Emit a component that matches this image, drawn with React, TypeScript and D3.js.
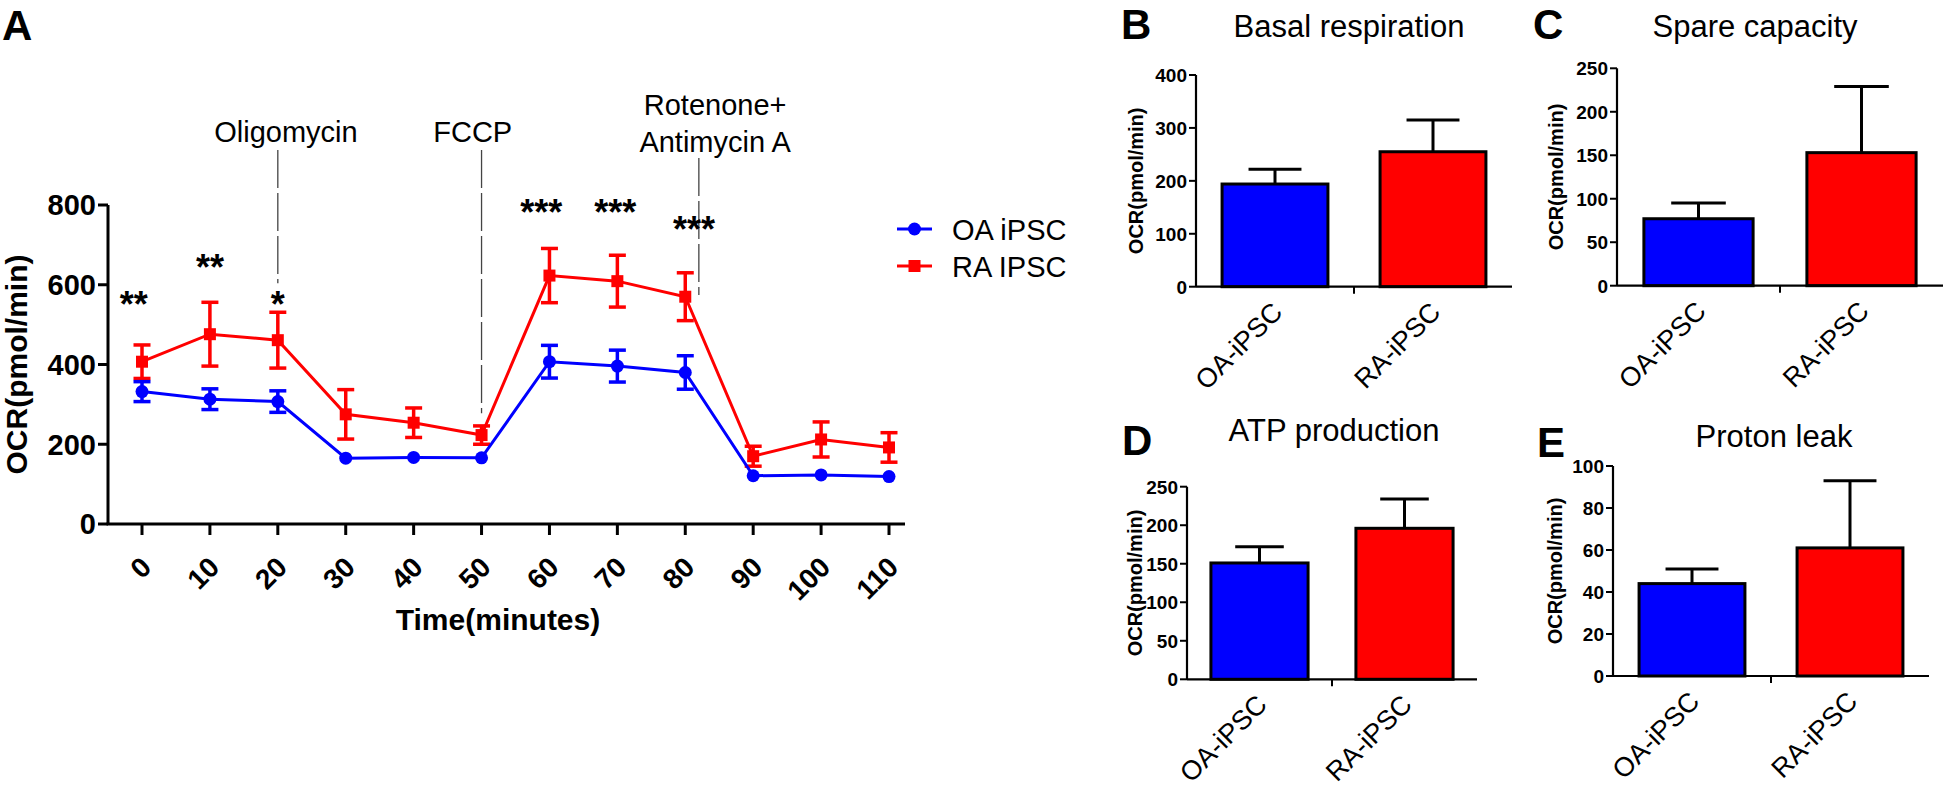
import React from "react";
import * as d3 from "d3";

const FONT = '"Liberation Sans", Arial, Helvetica, sans-serif';

// ---------- Panel A data ----------
const times = [0, 10, 20, 30, 40, 50, 60, 70, 80, 90, 100, 110];
const oaMean = [332, 313, 307, 165, 167, 166, 407, 396, 380, 121, 123, 119];
const oaErr = [25, 26, 27, 0, 0, 0, 41, 40, 42, 0, 0, 0];
const raMean = [407, 476, 461, 275, 254, 223, 623, 609, 570, 170, 212, 192];
const raErr = [42, 80, 70, 62, 37, 23, 68, 65, 60, 25, 44, 37];
const yTicksA = [0, 200, 400, 600, 800];
const seriesNames = ["OA iPSC", "RA IPSC"];

const injectionLabels = [["Oligomycin"], ["FCCP"], ["Rotenone+", "Antimycin A"]];
const injectionTimes = [20, 50, 82];
const injectionLabelTimes = [21.2, 48.7, 84.4];
const injectionLabelLevels = [[958], [958], [1026, 933]];
const injectionTop = [938, 938, 918];
const injectionBottom = [604, 278, 574];

const starTexts = ["**", "**", "*", "***", "***", "***"];
const starTimes = [-1.2, 10, 20, 58.8, 69.7, 81.3];
const starLevels = [520, 611, 520, 749, 749, 708];

// ---------- Bar panels data ----------
const groups = ["OA-iPSC", "RA-iPSC"];
const basalMean = [194, 255];
const basalErr = [28, 60];
const spareMean = [77, 153];
const spareErr = [18, 76];
const atpMean = [151, 196];
const atpErr = [21, 38];
const leakMean = [44, 61];
const leakErr = [7, 32];

const ticksB = [0, 100, 200, 300, 400];
const ticksC = [0, 50, 100, 150, 200, 250];
const ticksD = [0, 50, 100, 150, 200, 250];
const ticksE = [0, 20, 40, 60, 80, 100];

const BLUE = "#0000ff";
const RED = "#ff0000";

function PanelA() {
  const x = d3.scaleLinear().domain([0, 110]).range([142, 889]);
  const y = d3.scaleLinear().domain([0, 800]).range([524, 205]);
  const axisX = 108;
  const axisEnd = 905;
  const line = d3
    .line<number>()
    .x((_, i) => x(times[i]))
    .y((d) => y(d));

  const errBars = (means: number[], errs: number[], color: string) =>
    means.map((m, i) =>
      errs[i] > 0 ? (
        <g key={i} stroke={color} strokeWidth={3.5}>
          <line x1={x(times[i])} x2={x(times[i])} y1={y(m - errs[i])} y2={y(m + errs[i])} />
          <line x1={x(times[i]) - 8.5} x2={x(times[i]) + 8.5} y1={y(m + errs[i])} y2={y(m + errs[i])} />
          <line x1={x(times[i]) - 8.5} x2={x(times[i]) + 8.5} y1={y(m - errs[i])} y2={y(m - errs[i])} />
        </g>
      ) : null
    );

  return (
    <g fontFamily={FONT}>
      <text x={2} y={40} fontSize={42} fontWeight="bold">A</text>

      {/* injection markers */}
      {injectionTimes.map((t, i) => (
        <g key={i}>
          <line
            x1={x(t)}
            x2={x(t)}
            y1={y(injectionTop[i])}
            y2={y(injectionBottom[i])}
            stroke="#444"
            strokeWidth={1.3}
            strokeDasharray="38,5"
          />
          {injectionLabels[i].map((s, j) => (
            <text
              key={j}
              x={x(injectionLabelTimes[i])}
              y={y(injectionLabelLevels[i][j])}
              fontSize={29}
              textAnchor="middle"
            >
              {s}
            </text>
          ))}
        </g>
      ))}

      {/* axes */}
      <line x1={axisX} x2={axisX} y1={y(800)} y2={y(0)} stroke="#000" strokeWidth={3} />
      <line x1={axisX - 1.5} x2={axisEnd} y1={y(0)} y2={y(0)} stroke="#000" strokeWidth={3} />
      {yTicksA.map((t) => (
        <g key={t}>
          <line x1={axisX - 10} x2={axisX} y1={y(t)} y2={y(t)} stroke="#000" strokeWidth={3} />
          <text x={axisX - 12} y={y(t)} dy="0.36em" fontSize={29} fontWeight="bold" textAnchor="end">
            {t}
          </text>
        </g>
      ))}
      {times.map((t) => (
        <g key={t}>
          <line x1={x(t)} x2={x(t)} y1={y(0)} y2={y(0) + 11} stroke="#000" strokeWidth={3} />
          <text
            transform={`translate(${x(t) + 11},${y(0) + 45}) rotate(-45)`}
            fontSize={28}
            fontWeight="bold"
            textAnchor="end"
          >
            {t}
          </text>
        </g>
      ))}
      <text
        transform={`translate(27,${(y(0) + y(800)) / 2}) rotate(-90)`}
        fontSize={30}
        fontWeight="bold"
        textAnchor="middle"
      >
        OCR(pmol/min)
      </text>
      <text x={498} y={630} fontSize={30} fontWeight="bold" textAnchor="middle">
        Time(minutes)
      </text>

      {/* series */}
      <path d={line(raMean) || ""} fill="none" stroke={RED} strokeWidth={3} />
      {errBars(raMean, raErr, RED)}
      {raMean.map((m, i) => (
        <rect key={i} x={x(times[i]) - 6} y={y(m) - 6} width={12} height={12} fill={RED} />
      ))}
      <path d={line(oaMean) || ""} fill="none" stroke={BLUE} strokeWidth={3} />
      {errBars(oaMean, oaErr, BLUE)}
      {oaMean.map((m, i) => (
        <circle key={i} cx={x(times[i])} cy={y(m)} r={6.5} fill={BLUE} />
      ))}

      {/* significance */}
      {starTexts.map((s, i) => (
        <text
          key={i}
          x={x(starTimes[i])}
          y={y(starLevels[i])}
          fontSize={36}
          fontWeight="bold"
          textAnchor="middle"
        >
          {s}
        </text>
      ))}

      {/* legend */}
      {seriesNames.map((n, i) => {
        const ly = 229 + i * 37;
        return (
          <g key={n}>
            <line x1={897} x2={932} y1={ly} y2={ly} stroke={i === 0 ? BLUE : RED} strokeWidth={3} />
            {i === 0 ? (
              <circle cx={914.5} cy={ly} r={6.5} fill={BLUE} />
            ) : (
              <rect x={908.5} y={ly - 6} width={12} height={12} fill={RED} />
            )}
            <text x={952} y={ly + 10.5} fontSize={29}>
              {n}
            </text>
          </g>
        );
      })}
    </g>
  );
}

type BarProps = {
  letter: string;
  letterX: number;
  letterY: number;
  title: string;
  titleX: number;
  titleY: number;
  means: number[];
  errs: number[];
  ticks: number[];
  x0: number;
  x1: number;
  yBottom: number;
  yTop: number;
  labelX: number;
};

function BarPanel(p: BarProps) {
  const max = p.ticks[p.ticks.length - 1];
  const y = d3.scaleLinear().domain([0, max]).range([p.yBottom, p.yTop]);
  const xb = d3.scaleBand<string>().domain(groups).range([p.x0, p.x1]).padding(0);
  const bw = xb.bandwidth() * 0.67;
  const colors = [BLUE, RED];
  return (
    <g fontFamily={FONT}>
      <text x={p.letterX} y={p.letterY} fontSize={42} fontWeight="bold">
        {p.letter}
      </text>
      <text x={p.titleX} y={p.titleY} fontSize={31} textAnchor="middle">
        {p.title}
      </text>
      {groups.map((g, i) => {
        const cx = (xb(g) as number) + xb.bandwidth() / 2;
        const top = y(p.means[i]);
        const et = y(p.means[i] + p.errs[i]);
        return (
          <g key={g}>
            <line x1={cx} x2={cx} y1={top} y2={et} stroke="#000" strokeWidth={3} />
            <line x1={cx - bw / 4} x2={cx + bw / 4} y1={et} y2={et} stroke="#000" strokeWidth={3} />
            <rect
              x={cx - bw / 2}
              y={top}
              width={bw}
              height={y(0) - top}
              fill={colors[i]}
              stroke="#000"
              strokeWidth={3}
            />
            <text
              transform={`translate(${cx + 9},${y(0) + 27}) rotate(-45)`}
              fontSize={27}
              textAnchor="end"
            >
              {g}
            </text>
          </g>
        );
      })}
      <line x1={p.x0} x2={p.x0} y1={y(max)} y2={y(0)} stroke="#000" strokeWidth={2.2} />
      <line x1={p.x0} x2={p.x1} y1={y(0)} y2={y(0)} stroke="#000" strokeWidth={2.2} />
      <line
        x1={(p.x0 + p.x1) / 2}
        x2={(p.x0 + p.x1) / 2}
        y1={y(0)}
        y2={y(0) + 7}
        stroke="#000"
        strokeWidth={2}
      />
      {p.ticks.map((t) => (
        <g key={t}>
          <line x1={p.x0 - 7} x2={p.x0} y1={y(t)} y2={y(t)} stroke="#000" strokeWidth={2} />
          <text x={p.x0 - 9} y={y(t)} dy="0.36em" fontSize={19} fontWeight="bold" textAnchor="end">
            {t}
          </text>
        </g>
      ))}
      <text
        transform={`translate(${p.labelX},${(y(0) + y(max)) / 2}) rotate(-90)`}
        fontSize={20}
        fontWeight="bold"
        textAnchor="middle"
      >
        OCR(pmol/min)
      </text>
    </g>
  );
}

export default function App() {
  return (
    <svg
      width={1946}
      height={787}
      style={{ position: "absolute", left: 0, top: 0, background: "#fff" }}
    >
      <rect width={1946} height={787} fill="#fff" />
      <PanelA />
      <BarPanel
        letter="B" letterX={1121} letterY={39}
        title="Basal respiration" titleX={1349} titleY={37}
        means={basalMean} errs={basalErr} ticks={ticksB}
        x0={1196} x1={1512} yBottom={286.7} yTop={75} labelX={1143}
      />
      <BarPanel
        letter="C" letterX={1533} letterY={39}
        title="Spare capacity" titleX={1755} titleY={37}
        means={spareMean} errs={spareErr} ticks={ticksC}
        x0={1617} x1={1943} yBottom={285.7} yTop={68.3} labelX={1563}
      />
      <BarPanel
        letter="D" letterX={1122} letterY={455}
        title="ATP production" titleX={1334} titleY={441}
        means={atpMean} errs={atpErr} ticks={ticksD}
        x0={1187} x1={1477} yBottom={679.3} yTop={486.7} labelX={1142}
      />
      <BarPanel
        letter="E" letterX={1537} letterY={457}
        title="Proton leak" titleX={1774} titleY={447}
        means={leakMean} errs={leakErr} ticks={ticksE}
        x0={1613} x1={1929} yBottom={676} yTop={466} labelX={1562}
      />
    </svg>
  );
}
